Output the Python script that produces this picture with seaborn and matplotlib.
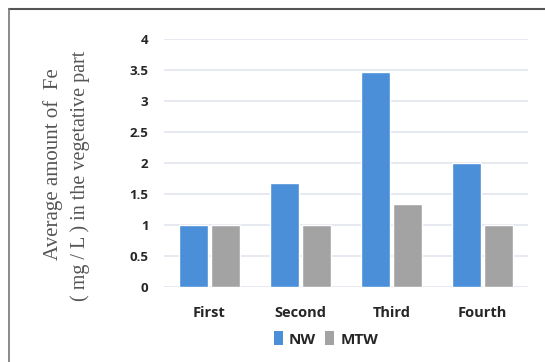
import matplotlib
matplotlib.use("Agg")
import matplotlib.pyplot as plt
import seaborn as sns
import pandas as pd
from matplotlib.patches import Patch
from matplotlib.lines import Line2D

categories = ["First", "Second", "Third", "Fourth"]
nw_values = [1.0, 1.67, 3.46, 2.0]
mtw_values = [1.0, 1.0, 1.34, 1.0]
series_names = ["NW", "MTW"]
y_ticks = [0, 0.5, 1, 1.5, 2, 2.5, 3, 3.5, 4]
y_tick_labels = ["0", "0.5", "1", "1.5", "2", "2.5", "3", "3.5", "4"]

df = pd.DataFrame({
    "cat": categories * 2,
    "val": nw_values + mtw_values,
    "series": [series_names[0]] * 4 + [series_names[1]] * 4,
})

colors = {"NW": "#4a8fd8", "MTW": "#a3a3a3"}

sns.set_style("white")
fig = plt.figure(figsize=(5.45, 3.62), dpi=100)
ax = fig.add_axes([163.8 / 545, 1 - 287 / 362, 364 / 545, 248 / 362])

sns.barplot(data=df, x="cat", y="val", hue="series", palette=colors,
            width=0.7, gap=0.1, ax=ax, legend=False, saturation=1)

ax.set_ylim(0, 4)
ax.set_xlim(-0.5, 3.5)
ax.set_yticks(y_ticks)
ax.set_yticklabels(y_tick_labels, fontsize=9.5, fontweight="bold",
                   family="Open Sans", color="#262626")
ax.set_xticks(range(len(categories)))
ax.set_xticklabels(categories, fontsize=10.5, fontweight="bold",
                   family="Open Sans", color="#262626")
ax.tick_params(axis="y", length=0, pad=11)
ax.tick_params(axis="x", length=0, pad=14)
ax.set_xlabel("")
ax.set_ylabel("")
ax.yaxis.grid(True, color="#e3e5ee", linewidth=1.2)
ax.set_axisbelow(True)
for s in ax.spines.values():
    s.set_visible(False)

fig.text(53 / 545, 1 - 164 / 362, "Average amount of  Fe",
         rotation=90, ha="center", va="center", fontsize=15,
         family="Liberation Serif", color="#555555")
fig.text(80 / 545, 1 - 176 / 362, "( mg / L ) in the vegetative part",
         rotation=90, ha="center", va="center", fontsize=14.5,
         family="Liberation Serif", color="#555555")

handles = [Patch(facecolor=colors[s], edgecolor="none") for s in series_names]
fig.legend(handles, series_names, loc="center",
           bbox_to_anchor=(326 / 545, 1 - 339 / 362), ncol=2, frameon=False,
           handlelength=0.6, handleheight=1.0, handletextpad=0.4,
           columnspacing=0.6, prop={"family": "Open Sans", "weight": "bold", "size": 11})

# frame lines (top and left)
fig.add_artist(Line2D([9 / 545, 1.0], [1 - 9 / 362, 1 - 9 / 362],
                      transform=fig.transFigure, color="#555555", linewidth=1.5))
fig.add_artist(Line2D([9 / 545, 9 / 545], [0, 1 - 9 / 362],
                      transform=fig.transFigure, color="#777777", linewidth=1.2))

fig.savefig("out.png", dpi=100)
